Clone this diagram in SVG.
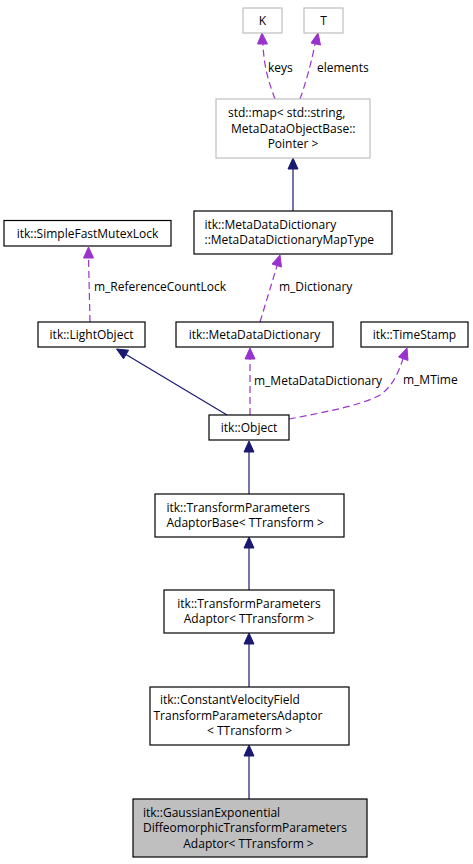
<svg xmlns="http://www.w3.org/2000/svg" width="473" height="864" viewBox="0 0 473 864">
<style>
text{font-family:"Open Sans","DejaVu Sans",sans-serif;font-size:12px;fill:#000}
.c{text-anchor:middle}
.n rect{fill:#fff;stroke:#000;stroke-width:1.2}
.g rect{fill:#fff;stroke:#bfbfbf;stroke-width:1.2}
.sel rect{fill:#bfbfbf}
.inh{fill:none;stroke:#191970;stroke-width:1.2}
.use{fill:none;stroke:#9a32cd;stroke-width:1.2;stroke-dasharray:7,4}
.ha{fill:#191970;stroke:#191970}
.ua{fill:#9a32cd;stroke:#9a32cd}
</style>
<rect width="473" height="864" fill="#fff"/>
<g id="edges">
  <path class="use" d="M275,99 C270,85 264,70 263,44"/>
  <polygon class="ua" points="262,33 257.5,44 267.5,44"/>
  <text x="268" y="72">keys</text>
  <path class="use" d="M300,99 C305,85 311,65 315,44"/>
  <polygon class="ua" points="318,33 311,43 320.5,45"/>
  <text x="317" y="72">elements</text>
  <path class="inh" d="M293,211 L293,169"/>
  <polygon class="ha" points="293,158 288,169 298,169"/>
  <path class="use" d="M90,322 L88.5,258"/>
  <polygon class="ua" points="88.5,247 83.5,258 93.5,258"/>
  <text x="94" y="291">m_ReferenceCountLock</text>
  <path class="use" d="M260,322 L277,266"/>
  <polygon class="ua" points="280,255 272,264 281.5,267"/>
  <text x="279" y="291">m_Dictionary</text>
  <path class="inh" d="M227,415 L126,354.5"/>
  <polygon class="ha" points="116.5,349 123.5,358.8 128.6,350.2"/>
  <path class="use" d="M250,415 L250,359"/>
  <polygon class="ua" points="250,348 245,359 255,359"/>
  <text x="254" y="385">m_MetaDataDictionary</text>
  <path class="use" d="M289,419 C320,413 360,406 380,395 C393,386 398,373 403,359"/>
  <polygon class="ua" points="407,348 398.5,357 408,360.5"/>
  <text x="403" y="384">m_MTime</text>
  <path class="inh" d="M249,494 L249,452"/>
  <polygon class="ha" points="249,441 244,452 254,452"/>
  <path class="inh" d="M249,590 L249,548"/>
  <polygon class="ha" points="249,537 244,548 254,548"/>
  <path class="inh" d="M249,687 L249,644"/>
  <polygon class="ha" points="249,633 244,644 254,644"/>
  <path class="inh" d="M249,799 L249,756"/>
  <polygon class="ha" points="249,745 244,756 254,756"/>
</g>
<g id="K" class="g"><rect x="243" y="8" width="39" height="25"/><text class="c" x="262.5" y="25">K</text></g>
<g id="T" class="g"><rect x="304" y="8" width="39" height="25"/><text class="c" x="323.5" y="25">T</text></g>
<g id="stdmap" class="g"><rect x="216" y="99" width="154" height="59"/>
  <text x="228" y="117">std::map&lt; std::string,</text>
  <text x="231" y="132.5">MetaDataObjectBase::</text>
  <text class="c" x="293" y="148">Pointer &gt;</text></g>
<g id="MapType" class="n"><rect x="194" y="211" width="198" height="43"/>
  <text x="204.5" y="228.5">itk::MetaDataDictionary</text>
  <text x="204.5" y="244">::MetaDataDictionaryMapType</text></g>
<g id="SimpleFastMutexLock" class="n"><rect x="4" y="220.5" width="167" height="25.5"/>
  <text class="c" x="87.5" y="237.5">itk::SimpleFastMutexLock</text></g>
<g id="LightObject" class="n"><rect x="38" y="322" width="107" height="25"/>
  <text class="c" x="91.5" y="338.5">itk::LightObject</text></g>
<g id="MetaDataDictionary" class="n"><rect x="176" y="322" width="157" height="25"/>
  <text class="c" x="254.5" y="338.5">itk::MetaDataDictionary</text></g>
<g id="TimeStamp" class="n"><rect x="361" y="322" width="107" height="25"/>
  <text class="c" x="414.5" y="338.5">itk::TimeStamp</text></g>
<g id="Object" class="n"><rect x="209" y="415" width="80" height="25"/>
  <text class="c" x="249" y="431.5">itk::Object</text></g>
<g id="AdaptorBase" class="n"><rect x="155" y="494" width="189" height="43"/>
  <text x="166.5" y="511.5">itk::TransformParameters</text>
  <text x="166.5" y="527">AdaptorBase&lt; TTransform &gt;</text></g>
<g id="Adaptor" class="n"><rect x="164" y="590" width="170" height="43"/>
  <text class="c" x="249" y="607.5">itk::TransformParameters</text>
  <text class="c" x="249" y="623">Adaptor&lt; TTransform &gt;</text></g>
<g id="ConstantVelocityField" class="n"><rect x="150" y="687" width="199" height="58"/>
  <text x="160" y="704">itk::ConstantVelocityField</text>
  <text x="153.5" y="719.5">TransformParametersAdaptor</text>
  <text class="c" x="249.5" y="735">&lt; TTransform &gt;</text></g>
<g id="Gaussian" class="n sel"><rect x="133" y="799" width="234" height="58"/>
  <text x="143" y="816.5">itk::GaussianExponential</text>
  <text x="143" y="832">DiffeomorphicTransformParameters</text>
  <text class="c" x="248.5" y="847.5">Adaptor&lt; TTransform &gt;</text></g>
</svg>
